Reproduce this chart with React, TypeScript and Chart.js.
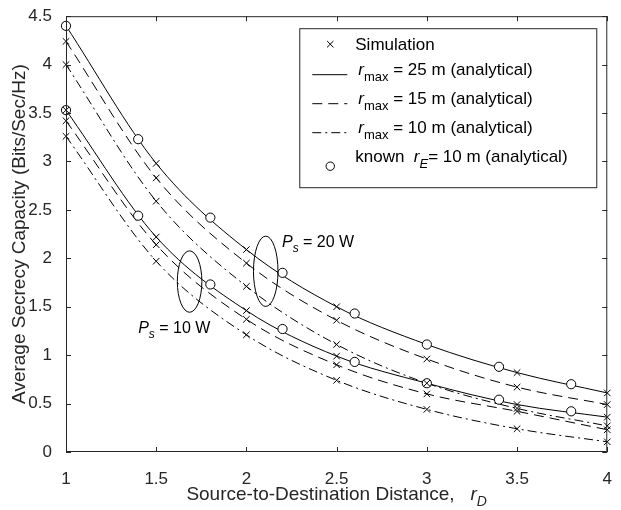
import React, { useEffect, useRef } from "react";
import { Chart, registerables } from "chart.js";

Chart.register(...registerables);

// ---------- data ----------
const rD = [1, 1.5, 2, 2.5, 3, 3.5, 4];
const ps20_r25 = [4.4, 2.98, 2.09, 1.5, 1.11, 0.82, 0.61];
const ps20_r15 = [4.24, 2.83, 1.95, 1.36, 0.96, 0.67, 0.49];
const ps20_r10 = [4.0, 2.59, 1.71, 1.11, 0.71, 0.45, 0.27];
const ps10_r25 = [3.53, 2.22, 1.46, 0.99, 0.71, 0.49, 0.36];
const ps10_r15 = [3.42, 2.14, 1.37, 0.9, 0.6, 0.42, 0.23];
const ps10_r10 = [3.26, 1.97, 1.21, 0.74, 0.44, 0.24, 0.105];

const knownX = [1, 1.4, 1.8, 2.2, 2.6, 3.0, 3.4, 3.8];
const known20 = [4.4, 3.23, 2.42, 1.85, 1.43, 1.11, 0.88, 0.7];
const known10 = [3.53, 2.44, 1.73, 1.27, 0.93, 0.71, 0.54, 0.42];

const xTicks = [1, 1.5, 2, 2.5, 3, 3.5, 4];
const yTicks = [0, 0.5, 1, 1.5, 2, 2.5, 3, 3.5, 4, 4.5];

const yTitle = "Average Secrecy Capacity (Bits/Sec/Hz)";
const xTitle = "Source-to-Destination Distance,   ";
const legendSim = "Simulation";
const legendRmax = ["25", "15", "10"];
const legendKnown = "known  ";

// annotations (data coordinates)
const ellipses = [
  { x: 1.685, y: 1.76, rx: 0.068, ry: 0.317 },
  { x: 2.107, y: 1.866, rx: 0.068, ry: 0.363 },
];
const psLabels = [
  { x: 1.4, y: 1.225, text: " = 10 W" },
  { x: 2.197, y: 2.115, text: " = 20 W" },
];

// ---------- style ----------
const FONT = '"Liberation Sans", Arial, Helvetica, sans-serif';
const INK = "#262626";
const TICK_FS = 17;
const LABEL_FS = 19;
const LEG_FS = 17;
const ANN_FS = 16;
const DASH = [10, 6];
const DASHDOT = [9, 4, 2, 4];

type Seg = { t: string; size: number; italic?: boolean; dy?: number };
function drawSegs(ctx: CanvasRenderingContext2D, x: number, y: number, segs: Seg[]) {
  let cx = x;
  for (const s of segs) {
    ctx.font = `${s.italic ? "italic " : ""}${s.size}px ${FONT}`;
    ctx.fillText(s.t, cx, y + (s.dy || 0));
    cx += ctx.measureText(s.t).width;
  }
  return cx;
}
function segsWidth(ctx: CanvasRenderingContext2D, segs: Seg[]) {
  let w = 0;
  for (const s of segs) {
    ctx.font = `${s.italic ? "italic " : ""}${s.size}px ${FONT}`;
    w += ctx.measureText(s.t).width;
  }
  return w;
}

const decorPlugin = {
  id: "decor",
  afterDatasetsDraw(chart: any) {
    const ctx: CanvasRenderingContext2D = chart.ctx;
    const ca = chart.chartArea;
    const xs = chart.scales.x;
    const ys = chart.scales.y;
    ctx.save();

    // ellipses
    ctx.strokeStyle = "#000";
    ctx.lineWidth = 1;
    ctx.setLineDash([]);
    for (const e of ellipses) {
      const cx = xs.getPixelForValue(e.x);
      const cy = ys.getPixelForValue(e.y);
      const rx = Math.abs(xs.getPixelForValue(e.x + e.rx) - cx);
      const ry = Math.abs(ys.getPixelForValue(e.y + e.ry) - cy);
      ctx.beginPath();
      ctx.ellipse(cx, cy, rx, ry, 0, 0, Math.PI * 2);
      ctx.stroke();
    }
    // P_s labels
    ctx.fillStyle = "#000";
    ctx.textBaseline = "alphabetic";
    ctx.textAlign = "left";
    for (const p of psLabels) {
      drawSegs(ctx, xs.getPixelForValue(p.x), ys.getPixelForValue(p.y), [
        { t: "P", size: ANN_FS, italic: true },
        { t: "s", size: 12, italic: true, dy: 5 },
        { t: p.text, size: ANN_FS },
      ]);
    }

    // frame and inward ticks
    ctx.strokeStyle = INK;
    ctx.lineWidth = 1;
    ctx.beginPath();
    ctx.rect(ca.left + 0.5, ca.top + 0.5, ca.right - ca.left - 1, ca.bottom - ca.top - 1);
    ctx.stroke();
    const TL = 5;
    ctx.beginPath();
    for (const t of xTicks) {
      const px = Math.round(xs.getPixelForValue(t)) + 0.5;
      ctx.moveTo(px, ca.bottom);
      ctx.lineTo(px, ca.bottom - TL);
      ctx.moveTo(px, ca.top);
      ctx.lineTo(px, ca.top + TL);
    }
    for (const t of yTicks) {
      const py = Math.round(ys.getPixelForValue(t)) + 0.5;
      ctx.moveTo(ca.left, py);
      ctx.lineTo(ca.left + TL, py);
      ctx.moveTo(ca.right, py);
      ctx.lineTo(ca.right - TL, py);
    }
    ctx.stroke();

    // axis titles
    ctx.fillStyle = INK;
    const xsegs: Seg[] = [
      { t: xTitle, size: LABEL_FS },
      { t: "r", size: LABEL_FS, italic: true },
      { t: "D", size: 14, italic: true, dy: 6 },
    ];
    const w = segsWidth(ctx, xsegs);
    drawSegs(ctx, (ca.left + ca.right) / 2 - w / 2, 500, xsegs);

    ctx.save();
    ctx.translate(25, (ca.top + ca.bottom) / 2);
    ctx.rotate(-Math.PI / 2);
    ctx.textAlign = "center";
    ctx.font = `${LABEL_FS}px ${FONT}`;
    ctx.fillText(yTitle, 0, 0);
    ctx.restore();

    // legend
    const L = { left: ca.right - 308, top: ca.top + 12, w: 297, h: 159 };
    ctx.fillStyle = "#fff";
    ctx.fillRect(L.left, L.top, L.w, L.h);
    ctx.strokeStyle = INK;
    ctx.strokeRect(L.left + 0.5, L.top + 0.5, L.w, L.h);
    const symX0 = L.left + 13;
    const symX1 = L.left + 48;
    const symC = L.left + 31;
    const txtX = L.left + 56;
    ctx.strokeStyle = "#000";
    ctx.fillStyle = "#000";
    // row 1 simulation
    let yy = L.top + 16;
    ctx.beginPath();
    ctx.moveTo(symC - 3.2, yy - 3.2);
    ctx.lineTo(symC + 3.2, yy + 3.2);
    ctx.moveTo(symC + 3.2, yy - 3.2);
    ctx.lineTo(symC - 3.2, yy + 3.2);
    ctx.stroke();
    drawSegs(ctx, txtX, yy + 6, [{ t: legendSim, size: LEG_FS }]);
    const dashes = [[], DASH, DASHDOT];
    const rowY = [L.top + 46, L.top + 75, L.top + 104];
    for (let i = 0; i < 3; i++) {
      const ly = rowY[i];
      ctx.setLineDash(dashes[i]);
      ctx.beginPath();
      ctx.moveTo(symX0, ly + 0.5);
      ctx.lineTo(symX1, ly + 0.5);
      ctx.stroke();
      ctx.setLineDash([]);
      drawSegs(ctx, txtX + 3, ly + 1, [
        { t: "r", size: LEG_FS, italic: true },
        { t: "max", size: 13, dy: 6 },
        { t: " = " + legendRmax[i] + " m (analytical)", size: LEG_FS },
      ]);
    }
    // row 5 known
    yy = L.top + 138;
    ctx.beginPath();
    ctx.arc(symC, yy, 4.2, 0, Math.PI * 2);
    ctx.stroke();
    drawSegs(ctx, txtX, yy - 4, [
      { t: legendKnown, size: LEG_FS },
      { t: "r", size: LEG_FS, italic: true },
      { t: "E", size: 13, italic: true, dy: 6 },
      { t: "= 10 m (analytical)", size: LEG_FS },
    ]);

    ctx.restore();
  },
};

function pts(xv: number[], yv: number[]) {
  return xv.map((x, i) => ({ x, y: yv[i] }));
}

export default function App() {
  const ref = useRef<HTMLCanvasElement | null>(null);
  useEffect(() => {
    if (!ref.current) return;
    const curves = [
      { d: ps20_r25, dash: [] as number[], top: false },
      { d: ps20_r15, dash: DASH, top: false },
      { d: ps20_r10, dash: DASHDOT, top: false },
      { d: ps10_r25, dash: [] as number[], top: true },
      { d: ps10_r15, dash: DASH, top: true },
      { d: ps10_r10, dash: DASHDOT, top: true },
    ];
    const datasets: any[] = [];
    for (const c of curves) {
      datasets.push({
        data: pts(rD, c.d),
        borderColor: "#000",
        borderWidth: 1,
        borderDash: c.dash,
        pointRadius: 0,
        cubicInterpolationMode: "monotone",
        fill: false,
        order: 10,
      });
      datasets.push({
        data: pts(rD, c.d),
        showLine: false,
        pointStyle: "crossRot",
        pointRadius: 4.6,
        borderColor: "#000",
        backgroundColor: "#000",
        pointBorderWidth: 1,
        clip: false,
        order: c.top ? 1 : 8,
      });
    }
    for (const k of [known20, known10]) {
      datasets.push({
        data: pts(knownX, k),
        showLine: false,
        pointStyle: "circle",
        pointRadius: 4.6,
        borderColor: "#000",
        backgroundColor: "#fff",
        pointBorderWidth: 1,
        clip: false,
        order: 5,
      });
    }
    const chart = new Chart(ref.current, {
      type: "line",
      data: { datasets },
      plugins: [decorPlugin],
      options: {
        animation: false,
        responsive: true,
        maintainAspectRatio: false,
        events: [],
        layout: { padding: { top: 12, right: 1, left: 0, bottom: 0 } },
        plugins: { legend: { display: false }, tooltip: { enabled: false }, title: { display: false } },
        scales: {
          x: {
            type: "linear",
            min: 1,
            max: 4,
            grid: { display: false },
            border: { display: false },
            afterFit: (s: any) => {
              s.height = 58;
            },
            afterBuildTicks: (s: any) => {
              s.ticks = xTicks.map((v) => ({ value: v }));
            },
            ticks: {
              color: INK,
              font: { family: FONT, size: TICK_FS },
              padding: 9,
              maxRotation: 0,
              autoSkip: false,
              callback: (v: any) => String(v),
            },
          },
          y: {
            type: "linear",
            min: 0,
            max: 4.5,
            grid: { display: false },
            border: { display: false },
            afterFit: (s: any) => {
              s.width = 66;
            },
            afterBuildTicks: (s: any) => {
              s.ticks = yTicks.map((v) => ({ value: v }));
            },
            ticks: {
              color: INK,
              font: { family: FONT, size: TICK_FS },
              padding: 6,
              autoSkip: false,
              callback: (v: any) => String(v),
            },
          },
        },
      } as any,
    });
    return () => chart.destroy();
  }, []);
  return (
    <div style={{ position: "absolute", left: 0, top: 0, width: 621, height: 510, background: "#fff" }}>
      <canvas ref={ref} />
    </div>
  );
}
